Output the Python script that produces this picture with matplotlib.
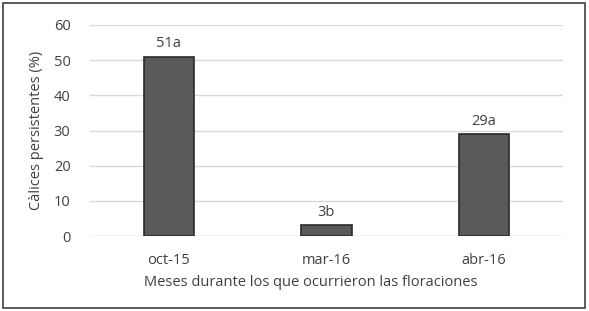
import matplotlib
matplotlib.use("Agg")
import matplotlib.pyplot as plt
from matplotlib.patches import Rectangle

categories = ["oct-15", "mar-16", "abr-16"]
values = [51, 3, 29]
labels = ["51a", "3b", "29a"]
yticks = [0, 10, 20, 30, 40, 50, 60]

plt.rcParams['font.family'] = ['Open Sans', 'DejaVu Sans']
txt = '#404040'
fs = 10.5

W, H = 589, 311
fig = plt.figure(figsize=(W/100, H/100), dpi=100)
ax = fig.add_axes([90/W, 1-236/H, (563-90)/W, (236-25)/H])

x = list(range(len(categories)))
ax.bar(x, values, width=0.32, color='#5a5a5a', edgecolor='#2a2a2a', linewidth=1.2, zorder=3)
for xi, v, lab in zip(x, values, labels):
    ax.text(xi, v + 1.5, lab, ha='center', va='bottom', fontsize=fs, color=txt)

ax.set_xlim(-0.5, 2.5)
ax.set_ylim(0, 60)
ax.set_yticks(yticks)
ax.set_xticks(x)
ax.set_xticklabels(categories)
ax.yaxis.grid(True, color='#d9d9d9', linewidth=1, zorder=0)
ax.tick_params(axis='both', length=0, labelsize=fs, colors=txt)
ax.tick_params(axis='x', pad=12)
ax.tick_params(axis='y', pad=14)
for s in ax.spines.values():
    s.set_visible(False)
ax.axhline(0, color='#d9d9d9', linewidth=1, zorder=2)

ax.set_ylabel("Càlices persistentes (%)", fontsize=fs, color=txt)
ax.yaxis.set_label_coords((37-90)/473, 0.5)
ax.set_xlabel("Meses durante los que ocurrieron las floraciones", fontsize=fs, color=txt)
ax.xaxis.set_label_coords((311-90)/473, -(282-236)/211)
ax.xaxis.label.set_va('center')
ax.yaxis.label.set_va('center')

fig.patches.append(Rectangle((3/W, 3/H), (585-3)/W, (308-3)/H, transform=fig.transFigure,
                             fill=False, edgecolor='#404040', linewidth=1.2))

fig.savefig("out.png", dpi=100)
